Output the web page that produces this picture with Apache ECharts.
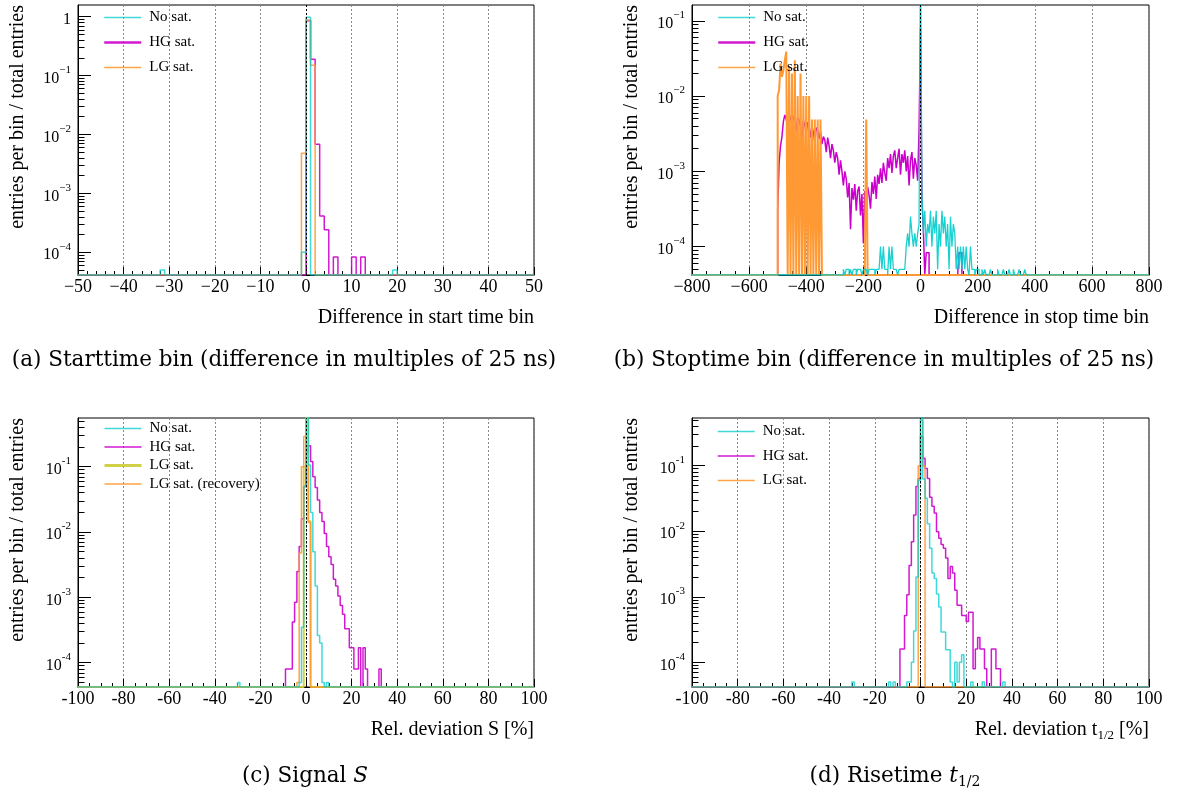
<!DOCTYPE html>
<html><head><meta charset="utf-8">
<script src="https://cdn.jsdelivr.net/npm/echarts@6/dist/echarts.min.js"></script>
<style>html,body{margin:0;padding:0;background:#fff}#c{width:1188px;height:794px}</style>
</head><body><div id="c"></div>
<script>
// ================= DATA =================
// Panel (a): Difference in start time bin, bin width 1, range -50..50
const aNoSatEdges = [-32, -1, 0, 19];
const aNoSatVals  = [5e-5, 1e-4, 0.98, 5e-5];
const aHGEdges = [0, 1, 2, 3, 4, 6, 10, 12];
const aHGVals  = [0.85, 0.19, 6.8e-3, 4.1e-4, 2.4e-4, 8.3e-5, 8.3e-5, 8.3e-5];
const aLGEdges = [-1, 0, 1];
const aLGVals  = [4.8e-3, 0.88, 0.15];

// Panel (b): Difference in stop time bin, bin width 5, range -800..800
const bHGStart = -500;
const bHGVals = [
  3.0e-4, 1.3e-3, 2.2e-3, 2.9e-3, 4.6e-3, 5.6e-3, 4.9e-3, 4.1e-3, 5.8e-3, 5.0e-3,
  4.2e-3, 5.4e-3, 4.6e-3, 3.4e-3, 5.2e-3, 4.8e-3, 3.9e-3, 2.7e-3, 4.7e-3, 4.1e-3,
  3.2e-3, 4.5e-3, 4.0e-3, 2.8e-3, 3.9e-3, 3.3e-3, 2.4e-3, 3.8e-3, 3.5e-3, 2.7e-3,
  3.4e-3, 2.3e-3, 2.9e-3, 2.6e-3, 1.8e-3, 2.8e-3, 2.2e-3, 1.5e-3, 2.3e-3, 1.9e-3,
  1.3e-3, 1.8e-3, 1.5e-3, 9.0e-4, 1.4e-3, 1.0e-3, 6.5e-4, 1.0e-3, 8.0e-4, 4.5e-4,
  7.0e-4, 1.7e-4, 6.0e-4, 4.2e-4, 6.8e-4, 3.0e-4, 5.5e-4, 6.3e-4, 2.6e-4, 5.0e-4,
  1.1e-4, 5.5e-4, 3.3e-4, 6.2e-4, 4.8e-4, 3.2e-4, 7.2e-4, 5.0e-4, 8.5e-4, 4.3e-4,
  9.0e-4, 6.8e-4, 1.1e-3, 7.0e-4, 1.3e-3, 9.5e-4, 7.5e-4, 1.5e-3, 1.1e-3, 1.7e-3,
  9.5e-4, 1.6e-3, 1.9e-3, 1.1e-3, 1.5e-3, 2.0e-3, 9.0e-4, 1.7e-3, 1.3e-3, 1.9e-3,
  1.0e-3, 1.6e-3, 6.5e-4, 1.4e-3, 1.8e-3, 8.0e-4, 1.5e-3, 1.2e-3, 7.5e-4, 3.6e-3,
  8.0e-2, 4.2e-4, 1.7e-4, 0, 8.3e-5, 8.3e-5
];
const bHGTailEdges = [135, 140];
const bHGTailVals  = [8.3e-5, 8.3e-5];

const bLGStart = -500;
const bLGVals = [
  0.010, 0.012, 0.027, 0.018, 0.022, 0.030, 0.039, 0, 0.025, 0,
  0.020, 0, 0.030, 0, 0.010, 0, 0.020, 0, 0.010, 0,
  0.010, 0, 0.010, 0, 0.0049, 0, 0.0049, 0, 0.0049, 0,
  0.0049
];
const bLGTailEdges = [-190];
const bLGTailVals  = [0.0049];

const bNoSatStart = -270;
const bNoSatVals = [
  5e-5, 0, 5e-5, 5e-5, 0, 5e-5, 0, 5e-5, 5e-5, 0,
  5e-5, 5e-5, 5e-5, 0, 5e-5, 5e-5, 5e-5, 0, 5e-5, 5e-5,
  5e-5, 5e-5, 0, 5e-5, 5e-5, 5e-5, 1e-4, 5e-5, 1e-4, 5e-5,
  5e-5, 0, 1e-4, 5e-5, 1e-4, 5e-5, 5e-5, 5e-5, 0, 5e-5,
  5e-5, 5e-5, 5e-5, 5e-5, 1e-4, 1.5e-4, 1e-4, 2.5e-4, 1.5e-4, 1e-4,
  1.5e-4, 1e-4, 1.5e-4, 2e-4, 0.9, 5e-4, 1.5e-4, 3e-4, 1e-4, 2e-4,
  1.5e-4, 3e-4, 1e-4, 2.5e-4, 1.5e-4, 3e-4, 5e-5, 2e-4, 1e-4, 3e-4,
  1.5e-4, 2.5e-4, 1e-4, 2e-4, 5e-5, 2.5e-4, 1e-4, 2e-4, 1.5e-4, 5e-5,
  1e-4, 5e-5, 1e-4, 5e-5, 1e-4, 5e-5, 1e-4, 5e-5, 0, 1e-4,
  5e-5, 5e-5, 0, 5e-5, 5e-5
];
const bNoSatTailEdges = [215, 225, 245, 270, 290, 310, 325, 345, 365];
const bNoSatTailVals  = [5e-5, 5e-5, 5e-5, 5e-5, 5e-5, 5e-5, 5e-5, 5e-5, 5e-5];

// Panel (c): Rel. deviation S [%], bin width 1, range -100..100
const cNoSatEdges = [-30, -3, -2, -1, 0, 1, 2, 3, 4, 5, 6, 7, 9];
const cNoSatVals  = [5e-5, 5e-5, 3.5e-4, 0.05, 0.62, 0.106, 0.02, 0.005, 1.5e-3, 2.6e-4, 2e-4, 5e-5, 5e-5];
const cHGEdges = [-9, -8, -7, -6, -5, -4, -3, -2, -1, 0, 1, 2, 3, 4, 5, 6, 7, 8, 9, 10,
                  11, 12, 13, 14, 15, 16, 17, 18, 19, 20, 21, 22, 23, 25, 26, 32];
const cHGVals  = [8e-5, 8e-5, 8e-5, 4.2e-4, 8.4e-4, 2.5e-3, 6e-3, 0.016, 0.05, 0.17, 0.21, 0.12, 0.07, 0.048, 0.031, 0.020, 0.0145, 0.0095, 0.006, 0.0042,
                  0.0032, 0.0019, 0.0015, 0.00105, 0.00075, 0.00055, 0.00033, 0.00033, 0.00017, 0.00017, 8e-5, 8e-5, 1.7e-4, 1.7e-4, 8e-5, 8e-5];
const cLGEdges = [-1, 0, 1];
const cLGVals  = [0.1, 0.65, 0.0147];
const cLGRecEdges = [-4, -3, -2, -1, 0, 1];
const cLGRecVals  = [5e-5, 4.8e-3, 0.1, 0.29, 0.1, 0.014];

// Panel (d): Rel. deviation t1/2 [%], bin width 1, range -100..100
const dNoSatEdges = [-30, -14, -12, -6, -5, -4, -3, -2, -1, 0, 1, 2, 3, 4, 5, 6, 7, 8, 9, 10, 11, 12, 13, 15, 16, 17, 18, 22, 27, 36];
const dNoSatVals  = [5e-5, 5e-5, 5e-5, 5e-5, 5e-5, 1e-4, 3e-4, 2e-3, 0.06, 0.6, 0.063, 0.032, 0.013, 5.5e-3, 2.3e-3, 1.9e-3, 1.1e-3, 7e-4, 2.9e-4, 2.9e-4, 1.55e-4, 1.55e-4, 5e-5, 1e-4, 5e-5, 1e-4, 1.3e-4, 5e-5, 5e-5, 5e-5];
const dHGEdges = [-9, -8, -7, -6, -5, -4, -3, -2, -1, 0, 1, 2, 3, 4, 5, 6, 7, 8, 9, 10,
                  11, 12, 13, 14, 15, 16, 17, 18, 19, 20, 21, 22, 23, 24, 25, 26, 27, 28, 31, 32, 33, 34];
const dHGVals  = [1.6e-4, 1.6e-4, 5.2e-4, 1.07e-3, 3e-3, 6.9e-3, 0.0177, 0.048, 0.064, 0.28, 0.13, 0.091, 0.064, 0.033, 0.024, 0.019, 9.8e-3, 7.8e-3, 6.3e-3, 5.5e-3,
                  3.9e-3, 1.9e-3, 2.9e-3, 2.3e-3, 1.26e-3, 7.4e-4, 7.4e-4, 5.2e-4, 5.2e-4, 4.2e-4, 5.8e-4, 5.8e-4, 8e-5, 1.6e-4, 2.4e-4, 1.6e-4, 1.6e-4, 8e-5, 1.6e-4, 1.6e-4, 8e-5, 8e-5];
const dLGEdges = [-1, 0, 1];
const dLGVals  = [0.1, 0.5, 0.1];

// Axis tick labels / texts
const yMajorsA = [1e-4, 1e-3, 1e-2, 1e-1, 1];
const yMajorsB = [1e-4, 1e-3, 1e-2, 1e-1];
const yMajorsCD = [1e-4, 1e-3, 1e-2, 1e-1];
const yTitle = 'entries per bin / total entries';
const xTitles = ['Difference in start time bin', 'Difference in stop time bin', 'Rel. deviation S [%]', 'Rel. deviation t{sub|1/2} [%]'];
const captions = ['(a) Starttime bin (difference in multiples of 25 ns)', '(b) Stoptime bin (difference in multiples of 25 ns)', '(c) Signal {it|S}', '(d) Risetime {it|t}{sub|1/2}'];

// ================= BUILD =================
const FONT = 'Liberation Serif';
const CAPFONT = 'DejaVu Serif';
const C_NO = 'rgba(0,204,204,0.75)', C_HG = 'rgba(204,0,204,0.9)', C_LG = 'rgba(255,153,51,0.9)', C_LGY = 'rgba(204,204,51,0.9)';
const yMin = [4.1e-5, 4.2e-5, 4.25e-5, 4.2e-5];
const yMax = [1.58, 0.162, 0.557, 0.535];

function runEdges(start, w, vals) { return vals.map((_, i) => start + i * w); }
function hist(xmin, xmax, w, edges, vals, floor) {
  const m = new Map();
  edges.forEach((e, i) => m.set(Math.round(e * 1000), vals[i]));
  const n = Math.round((xmax - xmin) / w);
  const out = [];
  for (let i = 0; i < n; i++) {
    const e = xmin + i * w;
    const v = m.get(Math.round(e * 1000)) || 0;
    out.push([e, v > floor ? v : floor]);
  }
  out.push([xmax, floor]);
  return out;
}

const gridRects = [
  {left: 78, top: 5, width: 456, height: 270},
  {left: 692, top: 5, width: 457, height: 270},
  {left: 78, top: 418, width: 456, height: 269},
  {left: 692, top: 418, width: 457, height: 269}
];
const grids = gridRects.map(g => Object.assign({}, g, {show: true, borderColor: '#000', borderWidth: 1, backgroundColor: 'transparent', outerBoundsMode: 'none', containLabel: false}));

function xAx(gi, min, max, interval, minorSplit, minus) {
  return {
    gridIndex: gi, type: 'value', min, max, interval, position: 'bottom',
    axisLine: {show: true, onZero: false, lineStyle: {color: '#000', width: 1}},
    axisTick: {show: true, inside: true, length: 8, lineStyle: {color: '#000'}},
    minorTick: {show: true, splitNumber: minorSplit, length: 4, lineStyle: {color: '#000'}},
    axisLabel: {margin: 3, fontFamily: FONT, fontSize: 18, color: '#000',
      formatter: v => v < 0 ? minus + (-v) : String(v)},
    splitLine: {show: true, lineStyle: {color: '#888', type: [2, 2], width: 1}}
  };
}

function yAxesFor(gi, majors, minus) {
  const min = yMin[gi], max = yMax[gi];
  const minors = [];
  for (let d = -6; d <= 1; d++) for (let k = 2; k <= 9; k++) {
    const v = k * Math.pow(10, d);
    if (v > min && v < max) minors.push(v);
  }
  return [{
    gridIndex: gi, type: 'log', logBase: 10, min, max, position: 'left',
    axisLine: {show: true, onZero: false, lineStyle: {color: '#000', width: 1}},
    axisTick: {show: true, inside: true, length: 13, customValues: majors, lineStyle: {color: '#000'}},
    axisLabel: {margin: 7, customValues: majors, color: '#000',
      formatter: v => { const e = Math.round(Math.log10(v)); return e === 0 ? '{b|1}' : '{b|10}{s|' + minus + (-e) + '}'; },
      rich: {b: {fontFamily: FONT, fontSize: 16, lineHeight: 22, verticalAlign: 'bottom', color: '#000'},
             s: {fontFamily: FONT, fontSize: 11, lineHeight: 11, verticalAlign: 'top', color: '#000'}}},
    splitLine: {show: false}
  }, {
    gridIndex: gi, type: 'log', logBase: 10, min, max, position: 'left',
    axisLine: {show: false, onZero: false},
    axisTick: {show: true, inside: true, length: 6.5, customValues: minors, lineStyle: {color: '#000'}},
    axisLabel: {show: false}, splitLine: {show: false}
  }];
}

function ser(gi, name, color, width, data, withZero) {
  const s = {
    type: 'line', name, xAxisIndex: gi, yAxisIndex: gi * 2, data, step: 'end',
    symbol: 'none', showSymbol: false, clip: true, animation: false,
    lineStyle: {color, width}, itemStyle: {color}, emphasis: {disabled: true}
  };
  if (withZero) s.markLine = {silent: true, symbol: 'none', label: {show: false},
    lineStyle: {color: '#000', type: [2, 2], width: 1}, data: [{xAxis: 0}]};
  return s;
}

const bHGEdges = runEdges(bHGStart, 5, bHGVals).concat(bHGTailEdges);
const bHGAll = bHGVals.concat(bHGTailVals);
const bLGEdges = runEdges(bLGStart, 5, bLGVals).concat(bLGTailEdges);
const bLGAll = bLGVals.concat(bLGTailVals);
const bNoEdges = runEdges(bNoSatStart, 5, bNoSatVals).concat(bNoSatTailEdges);
const bNoAll = bNoSatVals.concat(bNoSatTailVals);

// drawing order: HG, LG, No sat. (cyan on top, as in the reference baseline colour)
const series = [
  ser(0, 'HG sat.', C_HG, 1.5, hist(-50, 50, 1, aHGEdges, aHGVals, yMin[0])),
  ser(0, 'LG sat.', C_LG, 1.5, hist(-50, 50, 1, aLGEdges, aLGVals, yMin[0])),
  ser(0, 'No sat.', C_NO, 1.5, hist(-50, 50, 1, aNoSatEdges, aNoSatVals, yMin[0]), true),

  ser(1, 'HG sat.', '#cc00cc', 1.5, hist(-800, 800, 5, bHGEdges, bHGAll, yMin[1])),
  ser(1, 'LG sat.', '#ff9933', 2, hist(-800, 800, 5, bLGEdges, bLGAll, yMin[1])),
  ser(1, 'No sat.', 'rgba(0,204,204,0.9)', 1.3, hist(-800, 800, 5, bNoEdges, bNoAll, yMin[1]), true),

  ser(2, 'HG sat.', C_HG, 1.5, hist(-100, 100, 1, cHGEdges, cHGVals, yMin[2])),
  ser(2, 'LG sat.', C_LGY, 2, hist(-100, 100, 1, cLGEdges, cLGVals, yMin[2])),
  ser(2, 'LG sat. (recovery)', C_LG, 1.5, hist(-100, 100, 1, cLGRecEdges, cLGRecVals, yMin[2])),
  ser(2, 'No sat.', C_NO, 1.5, hist(-100, 100, 1, cNoSatEdges, cNoSatVals, yMin[2]), true),

  ser(3, 'HG sat.', C_HG, 1.5, hist(-100, 100, 1, dHGEdges, dHGVals, yMin[3])),
  ser(3, 'LG sat.', C_LG, 1.5, hist(-100, 100, 1, dLGEdges, dLGVals, yMin[3])),
  ser(3, 'No sat.', C_NO, 1.5, hist(-100, 100, 1, dNoSatEdges, dNoSatVals, yMin[3]), true)
];

function legendItem(name, color, width) {
  return {name, itemStyle: {color, opacity: 0, borderWidth: 0}, lineStyle: {color, width}};
}
function legend(left, top, gap, items) {
  return {orient: 'vertical', left, top, padding: 0, itemWidth: 37, itemHeight: 14, itemGap: gap,
    selectedMode: false, textStyle: {fontFamily: FONT, fontSize: 15, color: '#000', padding: [0, 0, 0, 3]},
    data: items};
}
const legends = [
  legend(103, 10, 10, [legendItem('No sat.', C_NO, 1.5), legendItem('HG sat.', C_HG, 2.5), legendItem('LG sat.', C_LG, 1.5)]),
  legend(717, 10, 10, [legendItem('No sat.', C_NO, 1.5), legendItem('HG sat.', C_HG, 2.5), legendItem('LG sat.', C_LG, 1.5)]),
  legend(103, 421, 3.5, [legendItem('No sat.', C_NO, 1.5), legendItem('HG sat.', C_HG, 1.5), legendItem('LG sat.', C_LGY, 3), legendItem('LG sat. (recovery)', C_LG, 1.5)]),
  legend(717, 424, 9.5, [legendItem('No sat.', C_NO, 1.5), legendItem('HG sat.', C_HG, 1.5), legendItem('LG sat.', C_LG, 1.5)])
];

// Captions and axis titles as text elements placed relative to each grid
const capPos = [[284, 360], [884, 360], [305, 776], [895, 776]];
const capRich = {
  it: {fontFamily: CAPFONT, fontSize: 21.5, fontStyle: 'italic', fill: '#000'},
  sub: {fontFamily: CAPFONT, fontSize: 14, fill: '#000', verticalAlign: 'bottom', lineHeight: 14}
};
const graphics = [];
captions.forEach((t, i) => graphics.push({
  type: 'text', x: capPos[i][0], y: capPos[i][1], silent: true,
  style: {text: t, align: 'center', verticalAlign: 'middle', fontFamily: CAPFONT, fontSize: 21.5,
    lineHeight: 27, fill: '#000', rich: capRich}
}));
const titleRich = {sub: {fontFamily: FONT, fontSize: 13, lineHeight: 13, verticalAlign: 'bottom', fill: '#000'}};
gridRects.forEach((g, i) => {
  graphics.push({
    type: 'text', x: g.left + g.width, y: g.top + g.height + 43, silent: true,
    style: {text: xTitles[i], align: 'right', verticalAlign: 'middle', fontFamily: FONT, fontSize: 20,
      lineHeight: 24, fill: '#000', rich: titleRich}
  });
  graphics.push({
    type: 'text', x: g.left - 60, y: g.top, rotation: Math.PI / 2, silent: true,
    style: {text: yTitle, align: 'right', verticalAlign: 'middle', fontFamily: FONT, fontSize: 20, fill: '#000'}
  });
});

const option = {
  animation: false,
  backgroundColor: '#fff',
  grid: grids,
  xAxis: [
    xAx(0, -50, 50, 10, 5, '\u2212'),
    xAx(1, -800, 800, 200, 4, '\u2212'),
    xAx(2, -100, 100, 20, 4, '-'),
    xAx(3, -100, 100, 20, 4, '-')
  ],
  yAxis: [].concat(yAxesFor(0, yMajorsA, '\u2212'), yAxesFor(1, yMajorsB, '\u2212'), yAxesFor(2, yMajorsCD, '-'), yAxesFor(3, yMajorsCD, '-')),
  legend: legends,
  series,
  graphic: graphics
};

const chart = echarts.init(document.getElementById('c'), null, {renderer: 'canvas'});
chart.setOption(option);
</script>
</body></html>
